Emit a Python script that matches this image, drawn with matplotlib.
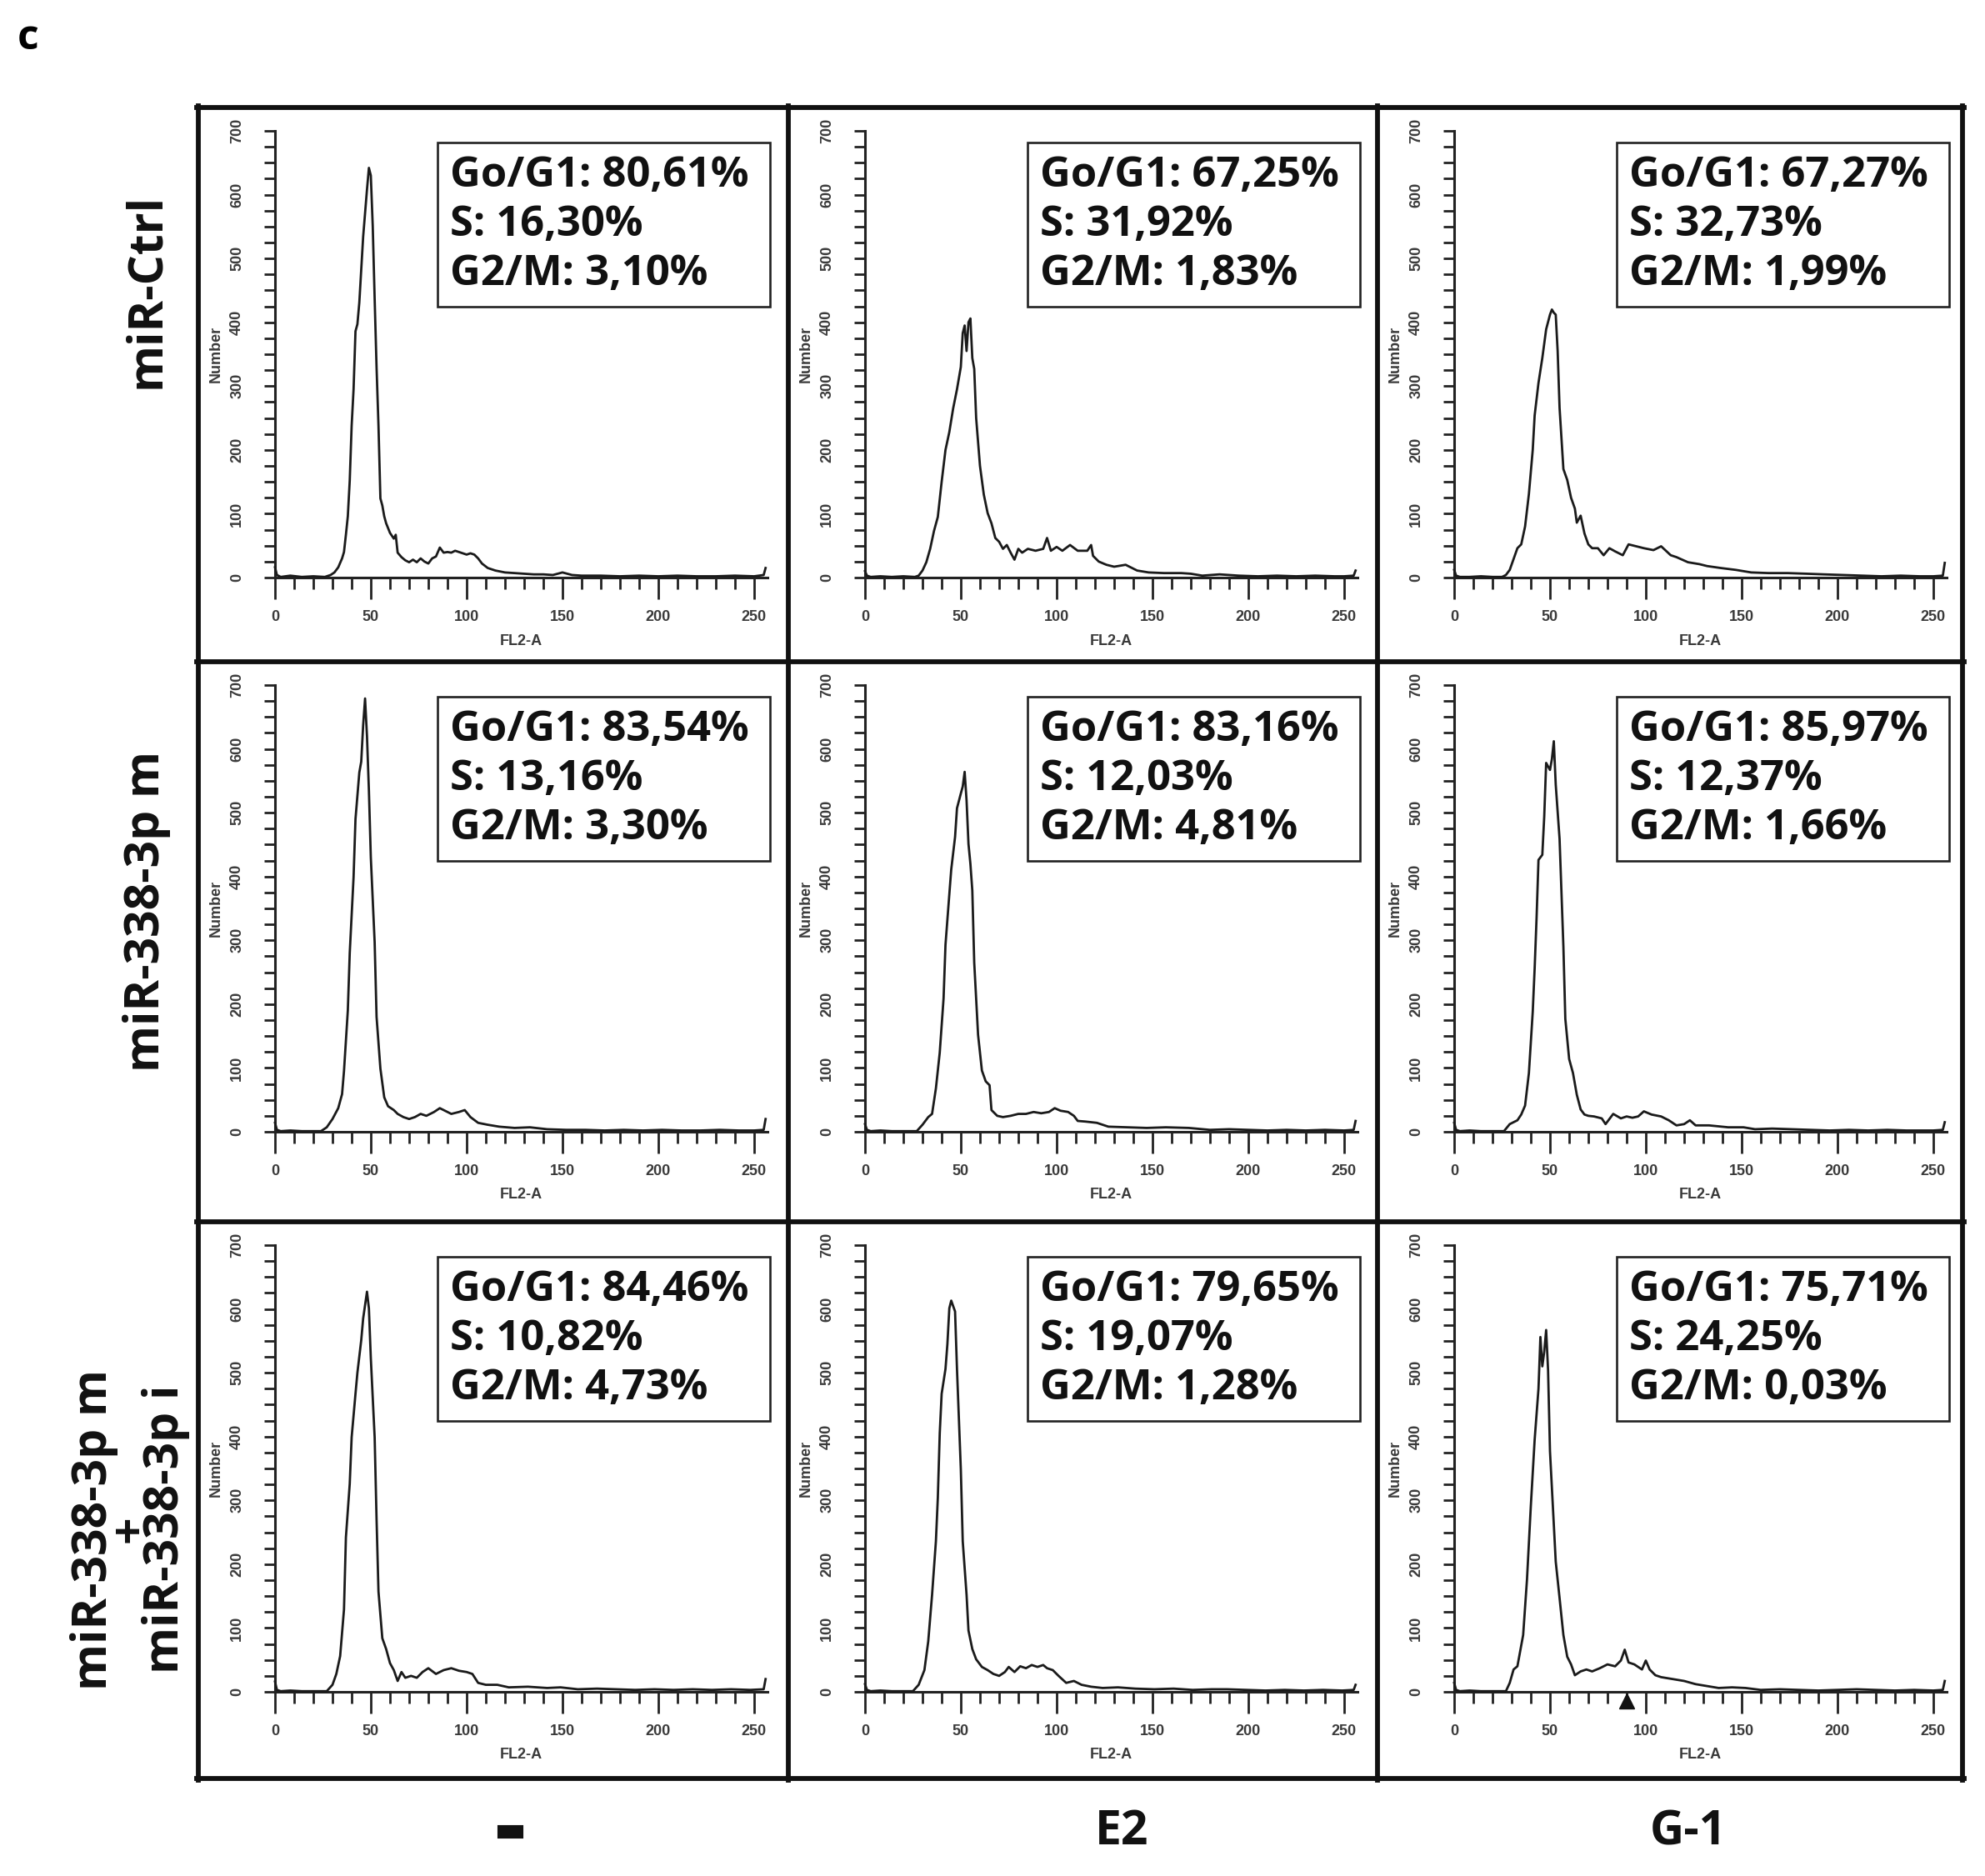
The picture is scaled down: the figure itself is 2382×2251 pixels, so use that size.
## import libraries ##
import matplotlib.pyplot as plt
import matplotlib.patheffects as pe
from matplotlib.lines import Line2D
from matplotlib.patches import Rectangle
from matplotlib.ticker import MultipleLocator

plt.rcParams['font.family'] = ['Open Sans', 'DejaVu Sans']

## labels ##
row_labels = ['miR-Ctrl', 'miR-338-3p m', 'miR-338-3p m\n+\nmiR-338-3p i']
col_labels = ['–', 'E2', 'G-1']

## cell cycle phases (row by row) ##
g1_pct = ['80,61', '67,25', '67,27', '83,54', '83,16', '85,97', '84,46', '79,65', '75,71']
s_pct = ['16,30', '31,92', '32,73', '13,16', '12,03', '12,37', '10,82', '19,07', '24,25']
g2m_pct = ['3,10', '1,83', '1,99', '3,30', '4,81', '1,66', '4,73', '1,28', '0,03']

## histograms (FL2-A channel, number of events) ##
ctrl_none_x = [0, 1, 3, 8, 14, 20, 26, 29, 31, 33, 35, 36, 37, 38, 39, 40, 41, 42, 43, 44,
               46, 48, 49, 50, 51, 52, 53, 54, 55, 56, 57, 58, 60, 62, 63, 64, 66, 68, 70, 72,
               74, 76, 78, 80, 82, 84, 86, 88, 90, 92, 94, 96, 98, 100, 102, 104, 106, 108, 111, 115,
               120, 125, 130, 135, 140, 145, 150, 155, 160, 170, 180, 190, 200, 210, 220, 230, 240, 250, 255, 256]
ctrl_none_y = [16, 4, 1, 3, 1, 2, 1, 4, 8, 16, 30, 40, 67, 96, 152, 238, 295, 386, 397, 431,
               534, 608, 642, 630, 551, 437, 329, 238, 124, 113, 96, 85, 70, 61, 67, 39, 32, 27, 24, 28,
               24, 30, 25, 22, 30, 33, 47, 39, 40, 39, 42, 40, 38, 36, 38, 36, 30, 22, 15, 11,
               8, 7, 6, 5, 5, 4, 8, 4, 3, 3, 2, 3, 2, 3, 2, 2, 3, 2, 4, 15]

ctrl_e2_x = [0, 1, 3, 8, 14, 20, 26, 28, 30, 32, 34, 36, 38, 40, 42, 44, 46, 48, 50,
             51, 52, 53, 54, 55, 56, 57, 58, 60, 62, 64, 66, 68, 70, 72, 74, 76, 78, 80, 82,
             85, 89, 93, 95, 97, 100, 103, 107, 111, 116, 118, 119, 122, 126, 130, 136, 142, 148,
             156, 165, 170, 176, 185, 195, 205, 215, 225, 235, 245, 250, 255, 256]
ctrl_e2_y = [10, 3, 1, 2, 1, 2, 1, 3, 11, 24, 45, 73, 95, 150, 200, 228, 265, 295, 330,
             383, 395, 355, 400, 406, 344, 327, 250, 175, 130, 101, 85, 62, 56, 45, 51, 39, 28, 45, 39,
             45, 42, 45, 62, 42, 48, 42, 51, 42, 42, 51, 34, 25, 20, 17, 20, 11, 8,
             7, 7, 6, 3, 5, 3, 2, 3, 2, 3, 2, 2, 3, 11]

ctrl_g1_x = [0, 1, 3, 8, 14, 20, 25, 27, 29, 31, 33, 35, 37, 39, 41, 42, 44,
             46, 48, 50, 51, 52, 53, 54, 55, 57, 59, 61, 63, 64, 66, 68, 70, 72, 75, 78, 81,
             84, 88, 91, 95, 99, 104, 108, 113, 116, 122, 128, 132, 139, 147, 155, 164, 174, 184, 193, 203,
             213, 223, 233, 243, 250, 255, 256]
ctrl_g1_y = [12, 3, 1, 1, 2, 1, 1, 4, 12, 29, 46, 52, 80, 131, 200, 254, 305,
             344, 389, 412, 420, 415, 412, 355, 266, 170, 153, 125, 108, 86, 97, 69, 52, 46, 46, 35, 46,
             41, 35, 52, 49, 46, 43, 49, 35, 32, 24, 21, 18, 15, 12, 8, 7, 7, 6, 5, 4,
             3, 2, 3, 2, 2, 3, 23]

m_none_x = [0, 1, 3, 8, 14, 20, 24, 27, 30, 33, 35, 36, 38, 39, 41, 42, 44,
            45, 46, 47, 48, 49, 50, 52, 53, 55, 57, 59, 62, 64, 67, 70, 73, 76, 79, 83, 86,
            88, 92, 96, 99, 102, 106, 111, 117, 125, 133, 142, 152, 162, 172, 182, 192, 202, 212, 222, 232,
            242, 250, 255, 256]
m_none_y = [14, 3, 1, 2, 1, 1, 1, 7, 20, 37, 59, 95, 190, 280, 399, 490, 563,
            580, 637, 679, 620, 535, 430, 297, 180, 99, 54, 40, 34, 28, 23, 20, 23, 28, 25, 31, 37,
            34, 28, 31, 34, 23, 14, 11, 8, 6, 7, 4, 3, 3, 2, 3, 2, 3, 2, 2, 3,
            2, 2, 3, 20]

m_e2_x = [0, 1, 3, 8, 14, 20, 27, 30, 33, 35, 37, 39, 41, 42, 44, 45, 47,
          48, 50, 51, 52, 53, 54, 55, 56, 57, 59, 61, 63, 65, 66, 69, 72, 76, 80, 84, 88,
          92, 96, 99, 102, 106, 109, 111, 115, 121, 127, 137, 147, 157, 169, 180, 190, 200, 210, 220, 230,
          240, 250, 255, 256]
m_e2_y = [12, 3, 1, 2, 1, 1, 1, 11, 23, 28, 68, 124, 209, 293, 372, 411, 462,
          507, 530, 541, 564, 519, 451, 420, 378, 265, 152, 96, 79, 73, 34, 25, 23, 25, 28, 28, 31,
          29, 31, 37, 33, 31, 25, 17, 16, 14, 8, 7, 6, 7, 6, 3, 4, 3, 2, 3, 2,
          3, 2, 3, 17]

m_g1_x = [0, 1, 3, 8, 14, 20, 26, 29, 33, 35, 37, 39, 41, 42, 43, 44, 46,
          47, 48, 50, 51, 52, 53, 55, 57, 58, 60, 62, 64, 66, 68, 70, 73, 77, 79, 83, 87,
          90, 93, 96, 99, 103, 108, 112, 116, 120, 123, 126, 133, 143, 151, 157, 166, 176, 186, 196, 206,
          216, 226, 236, 246, 250, 255, 256]
m_g1_y = [14, 3, 1, 2, 1, 1, 1, 12, 18, 27, 41, 92, 188, 256, 335, 426, 434,
          494, 578, 567, 584, 612, 544, 459, 290, 177, 114, 92, 58, 35, 27, 25, 24, 21, 12, 28, 21,
          24, 22, 24, 32, 27, 24, 18, 10, 12, 18, 10, 10, 7, 7, 4, 5, 4, 3, 2, 3,
          2, 3, 2, 2, 2, 3, 15]

mi_none_x = [0, 1, 3, 8, 14, 20, 27, 30, 32, 34, 36, 37, 39, 40, 42, 43, 45,
             46, 48, 49, 50, 52, 53, 54, 56, 58, 60, 62, 64, 66, 68, 71, 74, 77, 80, 84, 88,
             92, 96, 100, 103, 106, 110, 116, 122, 132, 142, 149, 158, 168, 178, 188, 198, 208, 218, 228, 238,
             248, 255, 256]
mi_none_y = [16, 3, 1, 2, 1, 1, 1, 11, 28, 56, 129, 242, 326, 399, 467, 500, 551,
             585, 627, 601, 523, 399, 270, 157, 84, 67, 45, 34, 17, 31, 22, 25, 22, 31, 37, 28, 34,
             37, 33, 31, 28, 14, 11, 11, 7, 8, 6, 7, 4, 5, 4, 3, 4, 3, 4, 3, 4,
             3, 4, 20]

mi_e2_x = [0, 1, 3, 8, 14, 20, 25, 28, 31, 33, 35, 37, 38, 39, 40, 42, 43,
           44, 45, 47, 48, 50, 51, 53, 54, 56, 58, 61, 64, 67, 70, 73, 75, 78, 81, 84, 87,
           90, 93, 95, 98, 101, 105, 109, 113, 118, 124, 132, 141, 151, 161, 171, 181, 189, 199, 209, 219,
           229, 239, 249, 255, 256]
mi_e2_y = [12, 3, 1, 2, 1, 1, 1, 11, 34, 79, 152, 236, 304, 405, 467, 506, 545,
           601, 613, 596, 506, 349, 236, 152, 96, 67, 51, 39, 34, 28, 25, 31, 39, 31, 40, 37, 42,
           39, 42, 37, 34, 25, 14, 17, 11, 8, 6, 7, 5, 4, 5, 3, 4, 4, 3, 2, 3,
           2, 3, 2, 3, 11]

mi_g1_x = [0, 1, 3, 8, 14, 20, 27, 29, 31, 33, 36, 38, 40, 42, 44, 45, 46,
           47, 48, 49, 50, 52, 53, 55, 57, 59, 61, 63, 66, 69, 72, 76, 80, 84, 87, 89, 91,
           94, 98, 100, 102, 105, 108, 114, 120, 126, 132, 138, 145, 152, 160, 170, 180, 190, 200, 210, 220,
           230, 240, 250, 255, 256]
mi_g1_y = [14, 3, 1, 2, 1, 1, 1, 14, 35, 40, 89, 176, 291, 395, 475, 556, 510,
           533, 567, 504, 377, 262, 204, 147, 89, 55, 43, 26, 32, 35, 32, 37, 43, 40, 49, 66, 46,
           43, 35, 49, 35, 26, 23, 20, 17, 12, 9, 6, 7, 6, 3, 4, 3, 2, 3, 4, 3,
           2, 3, 2, 3, 17]

marker_x = 90  # arrow head under the G-1 / miR-338-3p m + i panel

hist_x = [ctrl_none_x, ctrl_e2_x, ctrl_g1_x, m_none_x, m_e2_x, m_g1_x, mi_none_x, mi_e2_x, mi_g1_x]
hist_y = [ctrl_none_y, ctrl_e2_y, ctrl_g1_y, m_none_y, m_e2_y, m_g1_y, mi_none_y, mi_e2_y, mi_g1_y]

## figure layout (pixels) ##
W, H = 2382, 2251
fig = plt.figure(figsize=(W / 100, H / 100), dpi=100)
col_edges = [238, 946, 1653, 2355]
row_edges = [129, 794, 1466, 2134]


def fx(px):
    return px / W


def fy(py):
    return 1 - py / H


small = dict(family='Liberation Sans', fontsize=13, fontweight='bold', color='#3a3a3a')

for r in range(3):
    for c in range(3):
        i = r * 3 + c
        left = col_edges[c] + 92
        top = row_edges[r] + 28
        ax = fig.add_axes([fx(left), fy(top + 536), 591 / W, 536 / H])
        ax.plot(hist_x[i], hist_y[i], color='#1a1a1a', lw=2.0, clip_on=False, zorder=3)
        ax.set_xlim(0, 257)
        ax.set_ylim(0, 700)
        for s in ['top', 'right']:
            ax.spines[s].set_visible(False)
        for s in ['left', 'bottom']:
            ax.spines[s].set_linewidth(2.2)
            ax.spines[s].set_color('#222222')
        ax.xaxis.set_major_locator(MultipleLocator(50))
        ax.xaxis.set_minor_locator(MultipleLocator(10))
        ax.yaxis.set_major_locator(MultipleLocator(100))
        ax.yaxis.set_minor_locator(MultipleLocator(25))
        ax.tick_params(axis='x', which='major', length=19, width=2, color='#222222', pad=9)
        ax.tick_params(axis='x', which='minor', length=10, width=2, color='#222222')
        ax.tick_params(axis='y', which='both', length=9.5, width=2, color='#222222')
        ax.tick_params(axis='y', which='major', pad=17, labelrotation=90)
        for lab in ax.get_xticklabels() + ax.get_yticklabels():
            lab.set_fontfamily('Liberation Sans')
            lab.set_fontsize(13)
            lab.set_fontweight('bold')
            lab.set_color('#3a3a3a')
        for lab in ax.get_yticklabels():
            lab.set_va('center')
        ax.text(-71 / 591, 0.5, 'Number', rotation=90, ha='center', va='center',
                transform=ax.transAxes, **small)
        ax.text(0.5, -76 / 536, 'FL2-A', ha='center', va='center', transform=ax.transAxes, **small)

        # percentage box
        ax.add_patch(Rectangle((0.33, 0.607), 0.675, 0.367, transform=ax.transAxes,
                               facecolor='white', edgecolor='#222222', lw=1.9, clip_on=False, zorder=4))
        lines = ['Go/G1: ' + g1_pct[i] + '%', 'S: ' + s_pct[i] + '%', 'G2/M: ' + g2m_pct[i] + '%']
        for k, txt in enumerate(lines):
            ax.text(0.355, 0.90 - k * 0.11, txt, transform=ax.transAxes, va='center', ha='left',
                    fontsize=36.5, fontweight='bold', color='#111111', zorder=5)

        if i == 8:
            ax.plot([marker_x], [-14], marker='^', ms=13, color='#111111', clip_on=False, zorder=5)

## grid frame ##
for x in col_edges:
    fig.add_artist(Line2D([fx(x), fx(x)], [fy(row_edges[0] - 2), fy(row_edges[-1] + 2)],
                          lw=4.2, color='#111111', transform=fig.transFigure))
for y in row_edges:
    fig.add_artist(Line2D([fx(col_edges[0] - 2), fx(col_edges[-1] + 2)], [fy(y), fy(y)],
                          lw=4.2, color='#111111', transform=fig.transFigure))

## row and column labels ##
lab_font = dict(fontsize=41, fontweight='bold', color='#111111')
fig.text(fx(176), fy(349), row_labels[0], rotation=90, ha='center', va='center', **lab_font)
fig.text(fx(176), fy(1094), row_labels[1], rotation=90, ha='center', va='center', **lab_font)
fig.text(fx(156), fy(1835), row_labels[2], rotation=90, ha='center', va='center',
         multialignment='center', linespacing=0.66, **lab_font)

col_x = [612, 1346, 2026]
for c in range(3):
    t = fig.text(fx(col_x[c]), fy(2198), col_labels[c], ha='center', va='center', **lab_font)
    if col_labels[c] == '–':
        # the dash in the picture is a heavy bar
        t.set_fontsize(34)
        t.set_path_effects([pe.withStroke(linewidth=8, foreground='#111111', joinstyle='miter')])

fig.text(fx(34), fy(46), 'c', ha='center', va='center', fontsize=36, fontweight='bold')

fig.savefig('out.png', dpi=100, facecolor='white')
